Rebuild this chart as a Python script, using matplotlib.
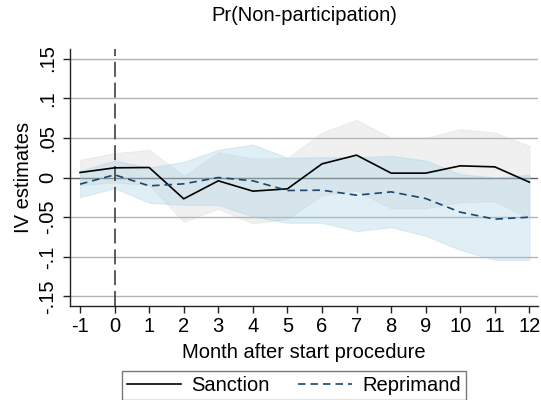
import matplotlib.pyplot as plt

plt.rcParams['font.family'] = ['Liberation Sans', 'DejaVu Sans']

months = list(range(-1, 13))

sanction = [0.0063, 0.0122, 0.0126, -0.0269, -0.0042, -0.0172, -0.0143,
            0.0172, 0.0282, 0.0055, 0.0055, 0.0147, 0.0134, -0.0059]
sanction_hi = [0.0223, 0.0307, 0.0349, 0.0021, 0.0315, 0.0240, 0.0248,
               0.0567, 0.0727, 0.0500, 0.0500, 0.0609, 0.0567, 0.0399]
sanction_lo = [-0.0097, -0.0063, -0.0097, -0.0559, -0.0395, -0.0580, -0.0525,
               -0.0223, -0.0164, -0.0390, -0.0390, -0.0312, -0.0300, -0.0510]

reprimand = [-0.0084, 0.0034, -0.0105, -0.0080, 0.0000, -0.0042, -0.0164,
             -0.0160, -0.0223, -0.0181, -0.0265, -0.0437, -0.0525, -0.0500]
reprimand_hi = [0.0084, 0.0214, 0.0126, 0.0197, 0.0349, 0.0416, 0.0248,
                0.0256, 0.0256, 0.0273, 0.0214, 0.0042, 0.0000, 0.0034]
reprimand_lo = [-0.0248, -0.0134, -0.0319, -0.0345, -0.0345, -0.0492, -0.0571,
                -0.0571, -0.0676, -0.0626, -0.0735, -0.0912, -0.1038, -0.1038]

yticks = [-0.15, -0.1, -0.05, 0, 0.05, 0.1, 0.15]
yticklabels = ['-.15', '-.1', '-.05', '0', '.05', '.1', '.15']

fig = plt.figure(figsize=(5.41, 4.0), dpi=100)
ax = fig.add_axes([0.1294, 0.235, 0.8651, 0.6425])

# horizontal grid, zero line a bit darker
for yv in yticks:
    col = '#606060' if yv == 0 else '#b4b4b4'
    ax.axhline(yv, color=col, lw=1.0, zorder=1)

ax.fill_between(months, sanction_lo, sanction_hi, facecolor='#bdbdbd', alpha=0.22,
                edgecolor='#c8c8c8', lw=0.8, zorder=2)
ax.fill_between(months, reprimand_lo, reprimand_hi, facecolor='#9bcde1', alpha=0.3,
                edgecolor='#9bcde1', lw=0.8, zorder=3)

ax.axvline(0, color='#404040', lw=1.2, dashes=(9, 3.5), zorder=4)

ax.plot(months, sanction, color='black', lw=1.2, zorder=5, label='Sanction')
ax.plot(months, reprimand, color='#1a476f', lw=1.2, dashes=(4.5, 3), zorder=5,
        label='Reprimand')

ax.set_xlim(-1.29, 12.25)
ax.set_ylim(-0.162, 0.162)
ax.set_xticks(months)
ax.set_xticklabels([str(m) for m in months])
ax.set_yticks(yticks)
ax.set_yticklabels(yticklabels, rotation=90, va='center')

for side in ['top', 'right']:
    ax.spines[side].set_visible(False)
for side in ['left', 'bottom']:
    ax.spines[side].set_color('#222222')
    ax.spines[side].set_linewidth(1.0)

ax.tick_params(axis='both', length=5, width=1.0, color='#222222',
               labelsize=14.5)
ax.tick_params(axis='x', pad=3)
ax.tick_params(axis='y', pad=4)

ax.set_xlabel('Month after start procedure', fontsize=14.5, labelpad=5)
ax.set_ylabel('IV estimates', fontsize=14.5, labelpad=4)
ax.set_title('Pr(Non-participation)', fontsize=14.5, pad=20)

leg = fig.legend(loc='upper center', bbox_to_anchor=(0.5434, 0.072), ncol=2,
                 fontsize=14.5, frameon=True, fancybox=False, handlelength=2.7,
                 columnspacing=1.4, borderpad=0.25, handletextpad=0.5,
                 borderaxespad=0)
leg.get_frame().set_edgecolor('#555555')
leg.get_frame().set_linewidth(1.0)

fig.savefig('out.png', dpi=100)
